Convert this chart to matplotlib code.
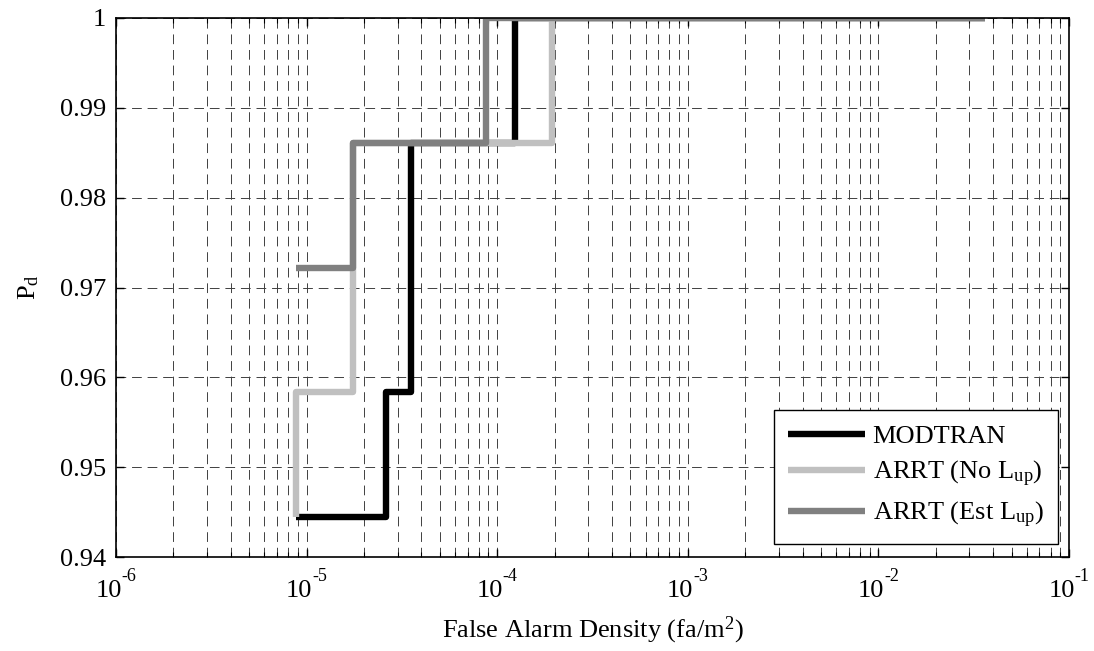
import matplotlib
matplotlib.use("Agg")
import matplotlib.pyplot as plt
from matplotlib.ticker import LogLocator, NullFormatter

plt.rcParams['font.family'] = ['Liberation Serif', 'DejaVu Serif']
plt.rcParams['mathtext.fontset'] = 'custom'
plt.rcParams['mathtext.rm'] = 'Liberation Serif'
plt.rcParams['mathtext.it'] = 'Liberation Serif:italic'

# Data (step curves: x = false alarm density, y = Pd)
modtran_x = [8.85e-6, 2.61e-5, 2.61e-5, 3.52e-5, 3.52e-5, 1.245e-4, 1.245e-4, 3.63e-2]
modtran_y = [68/72, 68/72, 69/72, 69/72, 71/72, 71/72, 1.0, 1.0]

nolup_x = [8.85e-6, 8.85e-6, 1.758e-5, 1.758e-5, 1.93e-4, 1.93e-4, 3.63e-2]
nolup_y = [68/72, 69/72, 69/72, 71/72, 71/72, 1.0, 1.0]

estlup_x = [8.85e-6, 1.758e-5, 1.758e-5, 8.74e-5, 8.74e-5, 3.63e-2]
estlup_y = [70/72, 70/72, 71/72, 71/72, 1.0, 1.0]

series_labels = ['MODTRAN', r'ARRT (No L$_{\mathrm{up}}$)', r'ARRT (Est L$_{\mathrm{up}}$)']
series_colors = ['#000000', '#c0c0c0', '#808080']

yticks = [0.94, 0.95, 0.96, 0.97, 0.98, 0.99, 1.0]
ytick_labels = ['0.94', '0.95', '0.96', '0.97', '0.98', '0.99', '1']
xticks = [1e-6, 1e-5, 1e-4, 1e-3, 1e-2, 1e-1]
xtick_exponents = ['-6', '-5', '-4', '-3', '-2', '-1']

fig = plt.figure(figsize=(10.94, 6.51), dpi=100)
ax = fig.add_axes([116/1094, 1 - 557/651, (1069 - 116)/1094, (557 - 18)/651])

for xs, ys, lab, col in zip([modtran_x, nolup_x, estlup_x], [modtran_y, nolup_y, estlup_y],
                            series_labels, series_colors):
    ax.plot(xs, ys, color=col, lw=4.6, label=lab, solid_joinstyle='round',
            solid_capstyle='butt')

ax.set_xscale('log')
ax.set_xlim(1e-6, 1e-1)
ax.set_ylim(0.94, 1.0)
ax.set_xticks(xticks)
ax.set_xticklabels([''] * len(xticks))
ax.xaxis.set_minor_locator(LogLocator(base=10, subs=range(2, 10), numticks=20))
ax.xaxis.set_minor_formatter(NullFormatter())
ax.set_yticks(yticks)
ax.set_yticklabels(ytick_labels)

# MATLAB-style "10^-n" tick labels
for t, e in zip(xticks, xtick_exponents):
    ax.annotate('10', xy=(t, 0), xycoords=('data', 'axes fraction'),
                xytext=(-5.5, -24.5), textcoords='offset points',
                ha='center', va='center', fontsize=19)
    ax.annotate(e, xy=(t, 0), xycoords=('data', 'axes fraction'),
                xytext=(4.0, -14.0), textcoords='offset points',
                ha='left', va='center', fontsize=13)

ax.grid(True, which='major', axis='both', color='#404040', lw=0.7, linestyle=(0, (10, 6)))
ax.grid(True, which='minor', axis='x', color='#404040', lw=0.7, linestyle=(0, (10, 6)))
ax.set_axisbelow(True)

ax.tick_params(which='both', direction='in', top=True, right=True, labelsize=19)
ax.tick_params(axis='y', pad=7)
ax.tick_params(which='major', length=6, width=1)
ax.tick_params(which='minor', length=3.5, width=0.8)
for s in ax.spines.values():
    s.set_linewidth(1.2)

ax.set_xlabel(r'False Alarm Density (fa/m$^{2}$)', fontsize=19, labelpad=38)
ax.set_ylabel(r'P$_{\mathrm{d}}$', fontsize=19, labelpad=14)

leg = ax.legend(loc='lower right', bbox_to_anchor=(0.9885, 0.024), borderaxespad=0,
                fancybox=False, framealpha=1, edgecolor='black', fontsize=19,
                handlelength=2.9, handletextpad=0.3, labelspacing=0.4, borderpad=0.55)
leg.get_frame().set_linewidth(1.0)

fig.savefig('out.png', dpi=100)
